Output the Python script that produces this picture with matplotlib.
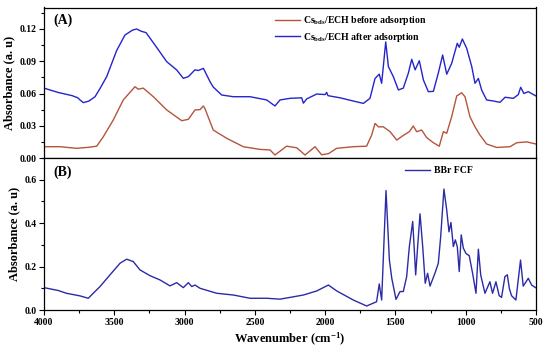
import matplotlib
matplotlib.use("Agg")
import matplotlib.pyplot as plt
from matplotlib.ticker import MultipleLocator

plt.rcParams['font.family'] = ['Liberation Serif', 'DejaVu Serif']
plt.rcParams['font.weight'] = 'bold'
plt.rcParams['mathtext.fontset'] = 'custom'
plt.rcParams['mathtext.rm'] = 'Liberation Serif:bold'
plt.rcParams['mathtext.bf'] = 'Liberation Serif:bold'
plt.rcParams['mathtext.it'] = 'Liberation Serif:bold:italic'

# Panel A: Cs_bds/ECH after adsorption
wn_after = [4000, 3900, 3800, 3760, 3744, 3720, 3680, 3637, 3600, 3554, 3483, 3424, 3370, 3341,
            3310, 3274, 3210, 3127, 3056, 3009, 2973, 2926, 2902, 2866, 2819, 2796, 2736, 2653,
            2534, 2416, 2357, 2321, 2250, 2167, 2155, 2131, 2060, 2000, 1989, 1980, 1894, 1800,
            1728, 1681, 1645, 1615, 1598, 1569, 1550, 1515, 1479, 1444, 1408, 1384, 1360, 1330,
            1301, 1266, 1230, 1195, 1164, 1135, 1100, 1060, 1046, 1024, 993, 957, 934, 910, 886,
            851, 803, 756, 720, 661, 626, 609, 586, 555, 500]
abs_after = [0.065, 0.061, 0.058, 0.056, 0.054, 0.0515, 0.053, 0.057, 0.065, 0.0757, 0.100, 0.1144,
             0.119, 0.120, 0.118, 0.1166, 0.105, 0.0896, 0.0819, 0.0741, 0.0757, 0.082, 0.0814,
             0.0834, 0.071, 0.066, 0.0586, 0.057, 0.057, 0.054, 0.0484, 0.054, 0.0555, 0.056,
             0.051, 0.055, 0.0595, 0.059, 0.061, 0.058, 0.056, 0.053, 0.0508, 0.0555, 0.074,
             0.078, 0.0695, 0.108, 0.085, 0.0757, 0.0633, 0.065, 0.079, 0.0918, 0.082, 0.0905,
             0.0726, 0.0617, 0.062, 0.079, 0.0958, 0.078, 0.088, 0.1067, 0.103, 0.1107, 0.102,
             0.085, 0.0695, 0.074, 0.063, 0.054, 0.053, 0.0518, 0.0565, 0.0555, 0.059, 0.0658,
             0.060, 0.0617, 0.0577]

# Panel A: Cs_bds/ECH before adsorption
wn_before = [4000, 3886, 3767, 3680, 3625, 3578, 3507, 3436, 3353, 3329, 3294, 3222, 3127, 3020,
             2973, 2926, 2890, 2867, 2855, 2819, 2796, 2700, 2582, 2463, 2392, 2357, 2274, 2202,
             2143, 2072, 2025, 1977, 1918, 1800, 1705, 1669, 1645, 1621, 1586, 1538, 1491, 1444,
             1401, 1373, 1349, 1313, 1278, 1230, 1188, 1159, 1135, 1100, 1064, 1029, 1005, 970,
             934, 899, 851, 780, 685, 637, 566, 500]
abs_before = [0.0105, 0.0105, 0.009, 0.010, 0.011, 0.0198, 0.0354, 0.054, 0.0663, 0.064, 0.065,
              0.057, 0.0447, 0.0347, 0.036, 0.0447, 0.045, 0.0484, 0.046, 0.0338, 0.026, 0.0183,
              0.0105, 0.008, 0.0075, 0.0028, 0.011, 0.0095, 0.0028, 0.0105, 0.003, 0.004, 0.009,
              0.0105, 0.011, 0.0214, 0.0322, 0.029, 0.029, 0.0245, 0.0167, 0.021, 0.0245, 0.0298,
              0.0245, 0.026, 0.019, 0.0142, 0.011, 0.0245, 0.023, 0.0384, 0.0577, 0.0607, 0.057,
              0.0384, 0.029, 0.0214, 0.013, 0.0098, 0.0105, 0.0142, 0.015, 0.013]

# Panel B: BBr FCF
wn_bbr = [4000, 3900, 3840, 3744, 3685, 3650, 3602, 3531, 3459, 3412, 3365, 3317, 3246, 3175,
          3104, 3056, 3009, 2973, 2949, 2926, 2890, 2771, 2653, 2534, 2416, 2321, 2250, 2155,
          2060, 1977, 1918, 1800, 1705, 1634, 1615, 1598, 1567, 1543, 1526, 1496, 1467, 1444,
          1420, 1401, 1377, 1356, 1342, 1325, 1306, 1288, 1271, 1254, 1219, 1195, 1178, 1155,
          1135, 1119, 1105, 1088, 1074, 1060, 1046, 1032, 1017, 998, 975, 951, 927, 910, 893,
          863, 828, 809, 785, 762, 745, 721, 704, 690, 674, 643, 610, 591, 555, 531, 503]
abs_bbr = [0.103, 0.09, 0.077, 0.065, 0.054, 0.077, 0.1077, 0.1615, 0.2154, 0.234, 0.223, 0.1846,
           0.158, 0.1385, 0.111, 0.126, 0.103, 0.126, 0.108, 0.115, 0.1, 0.077, 0.069, 0.054,
           0.054, 0.05, 0.058, 0.069, 0.0877, 0.115, 0.088, 0.046, 0.0185, 0.038, 0.12, 0.046,
           0.55, 0.23, 0.146, 0.049, 0.085, 0.085, 0.154, 0.292, 0.4077, 0.1615, 0.292, 0.443,
           0.292, 0.123, 0.169, 0.11, 0.169, 0.215, 0.338, 0.557, 0.46, 0.36, 0.403, 0.292,
           0.323, 0.292, 0.177, 0.346, 0.285, 0.26, 0.25, 0.169, 0.077, 0.28, 0.16, 0.077, 0.13,
           0.077, 0.13, 0.066, 0.058, 0.154, 0.162, 0.1, 0.066, 0.046, 0.23, 0.11, 0.146, 0.115,
           0.103]

label_before = r"Cs$_{\mathbf{bds}}$/ECH before adsorption"
label_after = r"Cs$_{\mathbf{bds}}$/ECH after adsorption"
label_bbr = "BBr FCF"
x_ticks = [4000, 3500, 3000, 2500, 2000, 1500, 1000, 500]

fig = plt.figure(figsize=(5.5, 3.54), dpi=100)
L, R = 44 / 550, 536 / 550
axA = fig.add_axes([L, 1 - 158 / 354, R - L, (158 - 7.5) / 354])
axB = fig.add_axes([L, 1 - 310 / 354, R - L, (310 - 158) / 354])

c_before = '#B4553C'
c_after = '#2424CC'
c_bbr = '#2B2BA6'

axA.plot(wn_before, abs_before, color=c_before, lw=1.0, label=label_before)
axA.plot(wn_after, abs_after, color=c_after, lw=1.0, label=label_after)
axB.plot(wn_bbr, abs_bbr, color=c_bbr, lw=1.0, label=label_bbr)

for ax in (axA, axB):
    ax.set_xlim(4000, 500)
    ax.xaxis.set_minor_locator(MultipleLocator(250))
    ax.tick_params(which='major', direction='out', length=3.5, width=0.8, labelsize=7, pad=2)
    ax.tick_params(which='minor', direction='out', length=2, width=0.8)
    for s in ax.spines.values():
        s.set_linewidth(0.9)
    for lab in ax.get_xticklabels() + ax.get_yticklabels():
        lab.set_fontweight('bold')

axA.set_ylim(0, 0.14)
axA.set_yticks([0.00, 0.03, 0.06, 0.09, 0.12])
axA.set_yticklabels(['0.00', '0.03', '0.06', '0.09', '0.12'], fontweight='bold')
axA.yaxis.set_minor_locator(MultipleLocator(0.015))
axA.tick_params(axis='x', which='both', bottom=False, labelbottom=False)
axA.set_ylabel('Absorbance (a. u)', fontsize=9, fontweight='bold', labelpad=3)
axA.text(0.02, 0.96, '(A)', transform=axA.transAxes, fontsize=10, fontweight='bold',
         va='top', ha='left')
axA.legend(loc='upper left', bbox_to_anchor=(0.455, 1.0), frameon=False,
           handlelength=2.6, handletextpad=0.3, labelspacing=0.35, borderaxespad=0.3,
           prop={'weight': 'bold', 'size': 7})

axB.set_ylim(0, 0.70)
axB.set_yticks([0.0, 0.2, 0.4, 0.6])
axB.set_yticklabels(['0.0', '0.2', '0.4', '0.6'], fontweight='bold')
axB.yaxis.set_minor_locator(MultipleLocator(0.1))
axB.set_xticks(x_ticks)
axB.set_xticklabels([str(t) for t in x_ticks], fontweight='bold')
axB.set_ylabel('Absorbance (a. u)', fontsize=9, fontweight='bold', labelpad=3)
axB.set_xlabel(r'Wavenumber (cm$^{\mathbf{-1}}$)', fontsize=9, fontweight='bold', labelpad=3)
axB.text(0.02, 0.95, '(B)', transform=axB.transAxes, fontsize=10, fontweight='bold',
         va='top', ha='left')
axB.legend(loc='upper left', bbox_to_anchor=(0.72, 0.99), frameon=False,
           handlelength=2.6, handletextpad=0.4, borderaxespad=0.3,
           prop={'weight': 'bold', 'size': 7})

fig.savefig('out.png', dpi=100)
